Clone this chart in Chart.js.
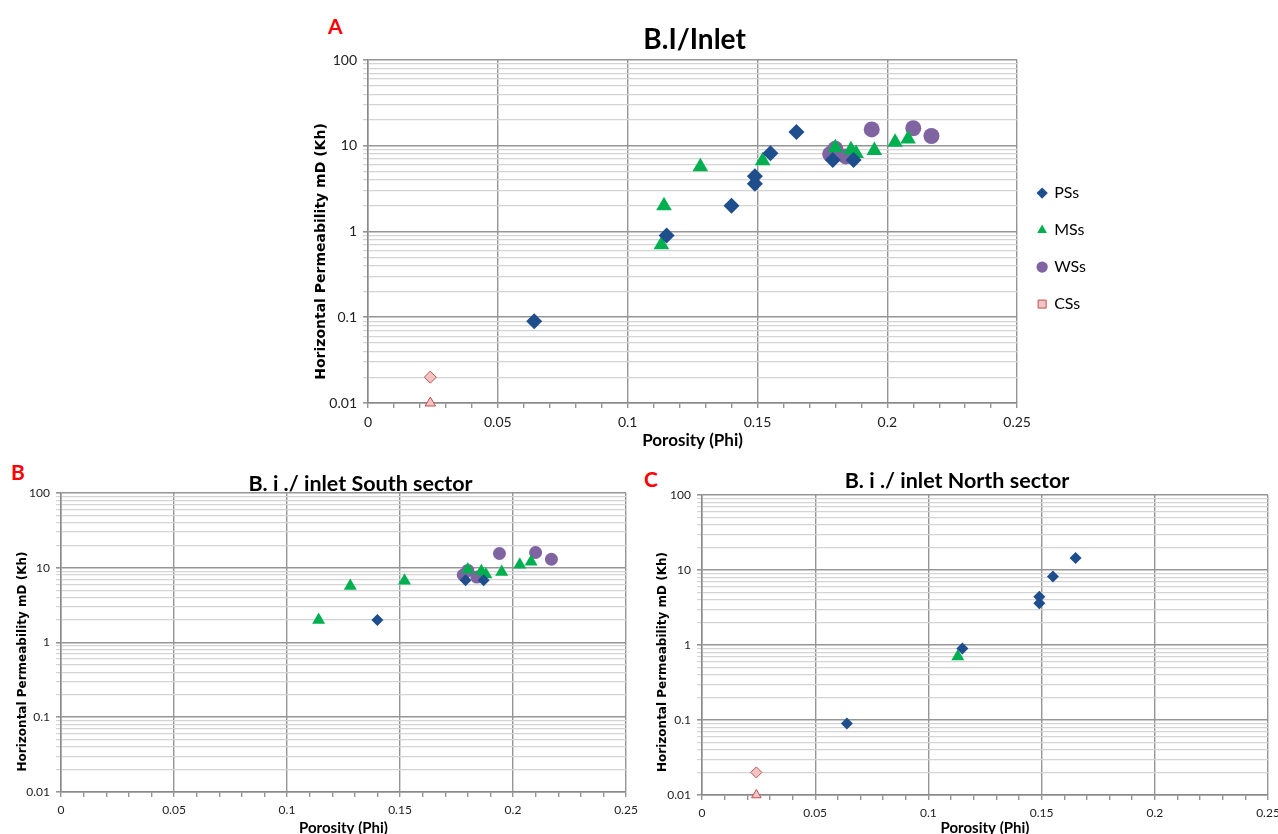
<!DOCTYPE html>
<html lang="en">
<head>
<meta charset="UTF-8" />
<script src="https://cdn.jsdelivr.net/npm/chart.js@4.4.0/dist/chart.umd.min.js"></script>
<style>
  body { margin: 0; width: 1278px; height: 834px; overflow: hidden; background: #fff; position: relative; }
  canvas { position: absolute; }
  .tag { position: absolute; color: #f00; font: bold 21px Lato, sans-serif; line-height: 1; }
</style>
<title>Porosity vs permeability</title>
</head>
<body>
<div class="tag" style="left:328px;top:15px">A</div>
<div class="tag" style="left:11px;top:461px">B</div>
<div class="tag" style="left:644px;top:468px">C</div>
<canvas id="chartA" width="796" height="452" style="left:300px;top:0"></canvas>
<canvas id="chartB" width="640" height="387" style="left:0;top:450px"></canvas>
<canvas id="chartC" width="638" height="390" style="left:640px;top:450px"></canvas>
<script>
// axis ticks
const phiTicks = [0, 0.05, 0.1, 0.15, 0.2, 0.25];
const khTicks = [0.01, 0.1, 1, 10, 100];
const seriesNames = ["PSs", "MSs", "WSs", "CSs"];

// South sector samples
const southPsPhi = [0.140, 0.179, 0.187];
const southPsKh = [2.0, 6.8, 6.8];
const southMsPhi = [0.114, 0.128, 0.152, 0.180, 0.186, 0.188, 0.195, 0.203, 0.208];
const southMsKh = [2.0, 5.7, 6.7, 9.5, 9.0, 8.1, 8.8, 11.0, 12.0];
const southWsPhi = [0.178, 0.180, 0.184, 0.194, 0.210, 0.217];
const southWsKh = [8.0, 9.2, 7.5, 15.5, 16.0, 13.0];

// North sector samples
const northPsPhi = [0.064, 0.115, 0.149, 0.149, 0.155, 0.165];
const northPsKh = [0.09, 0.9, 4.4, 3.6, 8.2, 14.5];
const northMsPhi = [0.113];
const northMsKh = [0.7];
const northCsPhi = [0.024, 0.024];
const northCsKh = [0.02, 0.01];

const pts = (xs, ys) => xs.map((x, i) => ({ x: x, y: ys[i] }));

const styles = [
  { pointStyle: "rectRot", bg: "#1f4e8c", border: "#1f4e8c" },
  { pointStyle: "triangle", bg: "#00b050", border: "#00b050" },
  { pointStyle: "circle", bg: "#8064a2", border: "#8064a2" },
  { pointStyle: ["rectRot", "triangle"], bg: "#f2c4c3", border: "#c0504d" },
];
const legendStyles = ["rectRot", "triangle", "circle", "rect"];

// chart title and rotated y title, placed like the Excel originals
const panelText = {
  id: "panelText",
  afterDraw(chart, args, opts) {
    const { ctx, chartArea } = chart;
    ctx.save();
    ctx.fillStyle = "#000";
    ctx.textAlign = "center";
    ctx.textBaseline = "middle";
    ctx.font = "bold " + opts.size + "px Lato";
    ctx.fillText(opts.text, (chartArea.left + chartArea.right) / 2 + opts.shift, opts.y);
    ctx.translate(opts.yTitleX, (chartArea.top + chartArea.bottom) / 2 + opts.yTitleShift);
    ctx.rotate(-Math.PI / 2);
    ctx.font = "bold " + opts.yTitleSize + "px 'DejaVu Sans'";
    ctx.fillText("Horizontal Permeability mD (Kh)", 0, 0);
    ctx.restore();
  },
};

function makeChart(id, data, o) {
  const datasets = data.map((d, i) => ({
    label: seriesNames[i],
    data: d,
    pointStyle: styles[i].pointStyle,
    backgroundColor: styles[i].bg,
    borderColor: styles[i].border,
    borderWidth: i === 3 ? 1 : 0,
    pointRadius: o.radius[i],
    pointHoverRadius: o.radius[i],
    clip: false,
  }));

  return new Chart(document.getElementById(id), {
    type: "scatter",
    data: { datasets },
    plugins: [panelText],
    options: {
      responsive: false,
      animation: false,
      layout: { padding: { right: o.padRight, left: 0, top: o.padTop, bottom: 0 } },
      plugins: {
        panelText: {
          text: o.title,
          size: o.titleSize,
          shift: o.titleShift,
          y: o.titleY,
          yTitleX: o.yTitleX,
          yTitleShift: o.yTitleShift,
          yTitleSize: o.yTitleSize,
        },
        legend: {
          display: o.legend,
          position: "right",
          fullSize: false,
          title: { display: true, text: "", font: { size: 1 }, padding: { top: 33, bottom: 0 } },
          labels: {
            usePointStyle: true,
            boxWidth: 8,
            boxHeight: 8,
            padding: 21,
            color: "#000",
            font: { family: "Lato", size: 16 },
            generateLabels: (chart) =>
              Chart.defaults.plugins.legend.labels.generateLabels(chart).map((item, i) => ({
                ...item,
                pointStyle: legendStyles[i],
                lineWidth: i === 3 ? 1 : 0,
              })),
          },
        },
        tooltip: { enabled: false },
      },
      scales: {
        x: {
          type: "linear",
          min: phiTicks[0],
          max: phiTicks[phiTicks.length - 1],
          afterBuildTicks: (scale) => {
            scale.ticks = Array.from({ length: 26 }, (_, i) => ({ value: i / 100 }));
          },
          afterFit: (scale) => {
            scale.height = o.xHeight;
            scale.paddingRight = 0;
            scale.paddingLeft = 0;
          },
          ticks: {
            autoSkip: false,
            maxRotation: 0,
            padding: 6,
            color: "#222",
            font: { family: "Lato", size: o.tickSize },
            callback: (v) => {
              const p = phiTicks.find((t) => Math.abs(t - v) < 1e-9);
              return p === undefined ? "" : String(p);
            },
          },
          grid: {
            color: (ctx) =>
              ctx.tick && phiTicks.some((t) => Math.abs(t - ctx.tick.value) < 1e-9) ? "#959595" : "rgba(0,0,0,0)",
            tickColor: "#959595",
            tickLength: 5,
            lineWidth: 1.4,
          },
          border: { color: "#8a8a8a", width: 1.5 },
          title: {
            display: true,
            text: "Porosity (Phi)",
            color: "#000",
            font: { family: "Lato", size: o.xTitleSize, weight: "bold", lineHeight: 1.2 },
            padding: { top: 0, bottom: o.xTitlePadBottom },
          },
        },
        y: {
          type: "logarithmic",
          min: khTicks[0],
          max: khTicks[khTicks.length - 1],
          afterBuildTicks: (scale) => {
            const t = [];
            khTicks.forEach((d, i) => {
              if (i < khTicks.length - 1) {
                for (let m = 1; m <= 9; m++) t.push({ value: +(d * m).toPrecision(3) });
              } else {
                t.push({ value: d });
              }
            });
            scale.ticks = t;
          },
          afterFit: (scale) => {
            scale.width = o.yWidth;
          },
          ticks: {
            autoSkip: false,
            padding: 6,
            color: "#222",
            font: { family: "Lato", size: o.tickSize },
            callback: (v) => (khTicks.includes(v) ? String(v) : ""),
          },
          grid: {
            color: (ctx) => (ctx.tick && khTicks.includes(ctx.tick.value) ? "#959595" : "#d4d4d4"),
            lineWidth: (ctx) => (ctx.tick && khTicks.includes(ctx.tick.value) ? 1.6 : 1.2),
            tickLength: 5,
          },
          border: { color: "#8a8a8a", width: 1.5 },
        },
      },
    },
  });
}

makeChart(
  "chartA",
  [
    pts(southPsPhi.concat(northPsPhi), southPsKh.concat(northPsKh)),
    pts(southMsPhi.concat(northMsPhi), southMsKh.concat(northMsKh)),
    pts(southWsPhi, southWsKh),
    pts(northCsPhi, northCsKh),
  ],
  {
    title: "B.I/Inlet",
    titleSize: 28,
    titleShift: 2,
    titleY: 40,
    padTop: 60,
    padRight: 0,
    tickSize: 14,
    xTitleSize: 17,
    xTitlePadBottom: 1,
    xHeight: 49,
    yTitleSize: 14,
    yTitleX: 21,
    yTitleShift: 20,
    yWidth: 68,
    legend: true,
    radius: [8, 9, 8, 6],
  }
);

makeChart(
  "chartB",
  [pts(southPsPhi, southPsKh), pts(southMsPhi, southMsKh), pts(southWsPhi, southWsKh), []],
  {
    title: "B. i ./ inlet South sector",
    titleSize: 21.5,
    titleShift: 17,
    titleY: 34,
    padTop: 43,
    padRight: 14,
    tickSize: 12,
    xTitleSize: 15,
    xTitlePadBottom: 0,
    xHeight: 45,
    yTitleSize: 12,
    yTitleX: 23,
    yTitleShift: 19,
    yWidth: 61,
    legend: false,
    radius: [6, 7.5, 6.5, 5.5],
  }
);

makeChart(
  "chartC",
  [pts(northPsPhi, northPsKh), pts(northMsPhi, northMsKh), [], pts(northCsPhi, northCsKh)],
  {
    title: "B. i ./ inlet North sector",
    titleSize: 21.5,
    titleShift: -28,
    titleY: 31,
    padTop: 45,
    padRight: 10,
    tickSize: 12,
    xTitleSize: 15,
    xTitlePadBottom: 3,
    xHeight: 45,
    yTitleSize: 12,
    yTitleX: 23,
    yTitleShift: 17,
    yWidth: 62,
    legend: false,
    radius: [6, 7.5, 6.5, 5.5],
  }
);
</script>
</body>
</html>
